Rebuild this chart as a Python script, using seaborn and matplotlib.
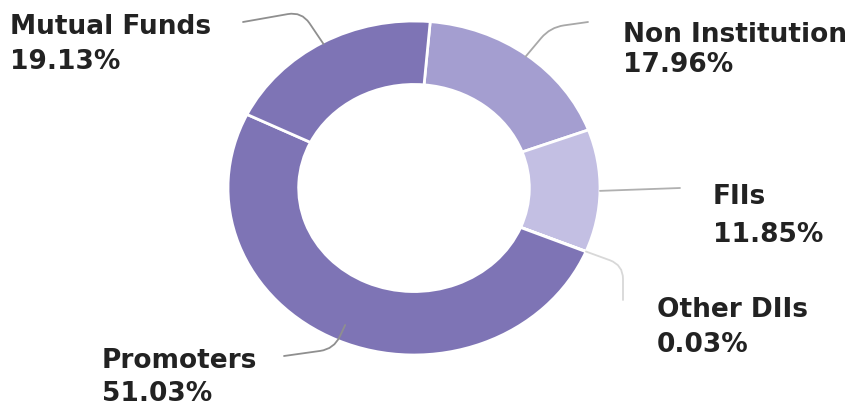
"""Donut chart of shareholding pattern."""
import numpy as np
import matplotlib
matplotlib.use("Agg")
import matplotlib.pyplot as plt
import seaborn as sns

# Data (clockwise from the top)
holders = ["Non Institution", "FIIs", "Other DIIs", "Promoters", "Mutual Funds"]
shares = [17.96, 11.85, 0.03, 51.03, 19.13]
colors = ["#a49ed0", "#c3bfe3", "#8a80c0", "#7e74b5", "#7e74b5"]

# label layout in pixels:
# (text x, name baseline y, value baseline y, line end x, line end y, angleA, angleB, line colour, anchor radius)
label_pos = {
    "Mutual Funds": (10, 34, 69, 243, 22, 10, 124, "#8f8f8f", 0.99),
    "Non Institution": (623, 42, 72, 588, 22, 8, 50, "#a8a8a8", 0.99),
    "FIIs": (713, 204, 242, 680, 188, 0, 0, "#b0b0b0", 1.0),
    "Other DIIs": (657, 317, 352, 623, 300, 90, -20, "#d8d8d8", 1.0),
    "Promoters": (102, 368, 401, 284, 356, 8, 65, "#8f8f8f", 0.9),
}

W, H = 858, 407
sns.set_theme(style="white")
plt.rcParams["font.family"] = ["DejaVu Sans"]

fig = plt.figure(figsize=(W / 100, H / 100), dpi=100)
cx, cy, rx, ry = 414, 188, 186, 167
ax = fig.add_axes([(cx - rx) / W, (H - cy - ry) / H, 2 * rx / W, 2 * ry / H])

wedges, _ = ax.pie(shares, colors=colors, startangle=85, counterclock=False,
                   radius=1, wedgeprops=dict(width=0.38, edgecolor="white", linewidth=2))
ax.set_aspect("auto")
ax.set_xlim(-1, 1)
ax.set_ylim(-1, 1)
ax.axis("off")

for w, name, val in zip(wedges, holders, shares):
    tx, ny, vy, lx, ly, aA, aB, lc, r = label_pos[name]
    mid = np.deg2rad((w.theta1 + w.theta2) / 2)
    anchor = (r * np.cos(mid), r * np.sin(mid))
    if aA == aB:
        cs = "arc3,rad=0"
    else:
        cs = f"angle,angleA={aA},angleB={aB},rad=14"
    ax.annotate("", xy=anchor, xycoords="data", xytext=(lx, H - ly),
                textcoords="figure pixels",
                arrowprops=dict(arrowstyle="-", color=lc, lw=1.3,
                                connectionstyle=cs, shrinkA=0, shrinkB=0))
    fig.text(tx / W, 1 - ny / H, name, fontsize=19, fontweight="bold",
             color="#222222", va="baseline", ha="left")
    fig.text(tx / W, 1 - vy / H, f"{val:.2f}%", fontsize=19, fontweight="bold",
             color="#222222", va="baseline", ha="left")

fig.savefig("out.png", dpi=100, facecolor="white")
plt.close(fig)
